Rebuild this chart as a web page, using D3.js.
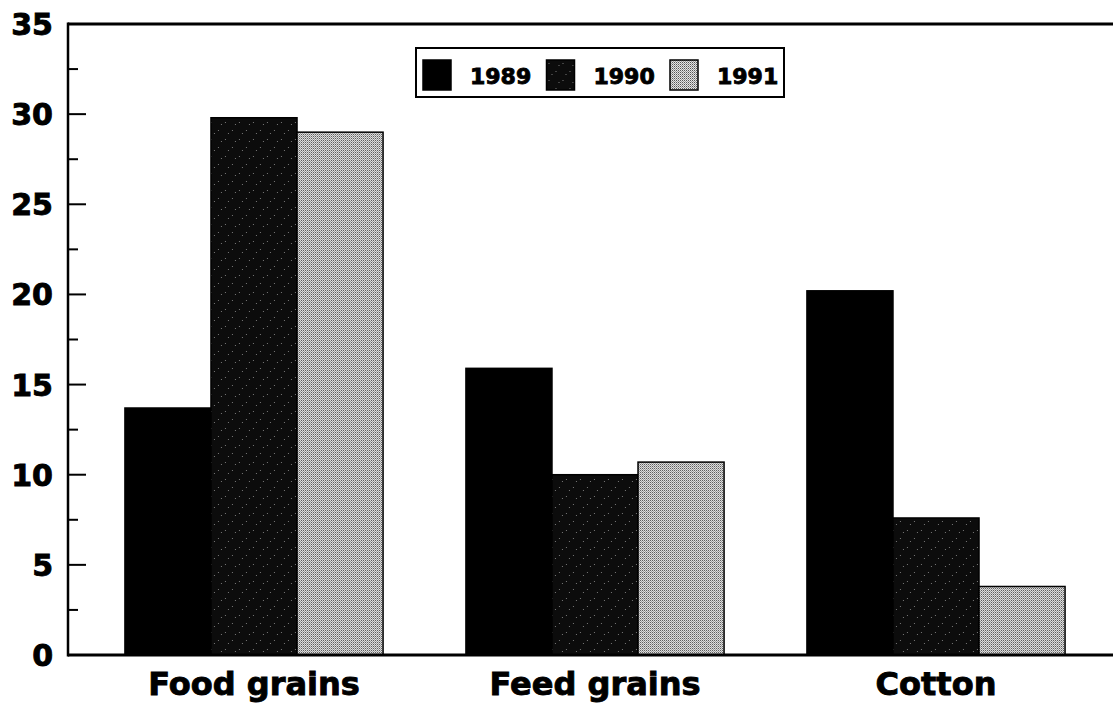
<!DOCTYPE html>
<html>
<head>
<meta charset="utf-8">
<script src="https://cdn.jsdelivr.net/npm/d3@7"></script>
<style>
  body { margin: 0; background: #fff; }
  text { font-family: "DejaVu Sans", sans-serif; font-weight: bold; fill: #000; stroke: #000; stroke-width: 0.9px; }
</style>
</head>
<body>
<div id="chart"></div>
<script>
// Data
const categories = ["Food grains", "Feed grains", "Cotton"];
const years = ["1989", "1990", "1991"];
const values1989 = [13.7, 15.9, 20.2];
const values1990 = [29.8, 10.0, 7.6];
const values1991 = [29.0, 10.7, 3.8];
const yTicks = [0, 5, 10, 15, 20, 25, 30, 35];

const seriesValues = [values1989, values1990, values1991];
const data = categories.map((c, i) => ({
    category: c,
    bars: years.map((y, j) => ({ year: y, value: seriesValues[j][i] }))
}));

// Dimensions
const W = 1115, H = 705;
const margin = {top: 24, right: 2, bottom: 50, left: 68};

const svg = d3.select("#chart").append("svg")
    .attr("width", W)
    .attr("height", H);

// Patterns for the textured fills
const defs = svg.append("defs");

const pDark = defs.append("pattern")
    .attr("id", "dark")
    .attr("patternUnits", "userSpaceOnUse")
    .attr("width", 14).attr("height", 17);
pDark.append("rect").attr("width", 14).attr("height", 17).attr("fill", "#0c0c0c");
[[2, 3], [9, 11], [5, 14], [12, 5]].forEach(([x, y]) => {
    pDark.append("rect").attr("x", x).attr("y", y).attr("width", 1).attr("height", 1).attr("fill", "#777");
});

const pLight = defs.append("pattern")
    .attr("id", "light")
    .attr("patternUnits", "userSpaceOnUse")
    .attr("width", 2).attr("height", 2);
pLight.append("rect").attr("width", 2).attr("height", 2).attr("fill", "#e4e4e4");
pLight.append("rect").attr("x", 0).attr("y", 0).attr("width", 1).attr("height", 1).attr("fill", "#555");
pLight.append("rect").attr("x", 1).attr("y", 1).attr("width", 1).attr("height", 1).attr("fill", "#999");

const fills = {"1989": "#000", "1990": "url(#dark)", "1991": "url(#light)"};

// Scales
const yScale = d3.scaleLinear()
    .domain([0, 35])
    .range([655, 24]);

const x0 = d3.scaleBand()
    .domain(categories)
    .range([83.5, 1106.5])
    .paddingInner(0.243)
    .paddingOuter(0.1215);

const x1 = d3.scaleBand()
    .domain(years)
    .range([0, x0.bandwidth()]);

// Bars
const groups = svg.selectAll(".group")
    .data(data)
    .enter().append("g")
    .attr("transform", d => `translate(${x0(d.category)},0)`);

groups.selectAll("rect")
    .data(d => d.bars)
    .enter().append("rect")
    .attr("x", d => x1(d.year))
    .attr("y", d => yScale(d.value))
    .attr("width", x1.bandwidth())
    .attr("height", d => yScale(0) - yScale(d.value))
    .attr("fill", d => fills[d.year])
    .attr("stroke", "#000")
    .attr("stroke-width", 1.5);

// Frame lines: left axis, top line, baseline
const left = margin.left, right = W - margin.right;
svg.append("line")
    .attr("x1", left).attr("x2", left)
    .attr("y1", yScale(35) - 1.5).attr("y2", yScale(0) + 1.5)
    .attr("stroke", "#000").attr("stroke-width", 2.5);
svg.append("line")
    .attr("x1", left).attr("x2", right)
    .attr("y1", yScale(35)).attr("y2", yScale(35))
    .attr("stroke", "#000").attr("stroke-width", 3);
svg.append("line")
    .attr("x1", left).attr("x2", right)
    .attr("y1", yScale(0)).attr("y2", yScale(0))
    .attr("stroke", "#000").attr("stroke-width", 3);

// Ticks (pointing inward) - major and minor
const minorTicks = d3.range(2.5, 35, 5);
svg.selectAll(".minor")
    .data(minorTicks)
    .enter().append("line")
    .attr("x1", left).attr("x2", left + 10)
    .attr("y1", d => yScale(d)).attr("y2", d => yScale(d))
    .attr("stroke", "#000").attr("stroke-width", 2);

svg.selectAll(".major")
    .data(yTicks.filter(t => t > 0 && t < 35))
    .enter().append("line")
    .attr("x1", left).attr("x2", left + 18)
    .attr("y1", d => yScale(d)).attr("y2", d => yScale(d))
    .attr("stroke", "#000").attr("stroke-width", 2);

// Y tick labels
svg.selectAll(".ylab")
    .data(yTicks)
    .enter().append("text")
    .attr("x", 53)
    .attr("y", d => yScale(d) + 11)
    .attr("text-anchor", "end")
    .style("font-size", "30px")
    .text(d => d);

// Category labels
svg.selectAll(".xlab")
    .data(categories)
    .enter().append("text")
    .attr("x", d => x0(d) + x0.bandwidth() / 2)
    .attr("y", 695)
    .attr("text-anchor", "middle")
    .style("font-size", "32px")
    .text(d => d);

// Legend
const legend = svg.append("g").attr("transform", "translate(416,48)");
legend.append("rect")
    .attr("width", 368).attr("height", 49)
    .attr("fill", "#fff")
    .attr("stroke", "#000").attr("stroke-width", 2);

years.forEach((y, i) => {
    const item = legend.append("g").attr("transform", `translate(${7 + i * 123.5},12)`);
    item.append("rect")
        .attr("width", 28).attr("height", 30)
        .attr("fill", fills[y])
        .attr("stroke", "#000").attr("stroke-width", 1.5);
    item.append("text")
        .attr("x", 47)
        .attr("y", 24)
        .style("font-size", "22px")
        .text(y);
});
</script>
</body>
</html>
